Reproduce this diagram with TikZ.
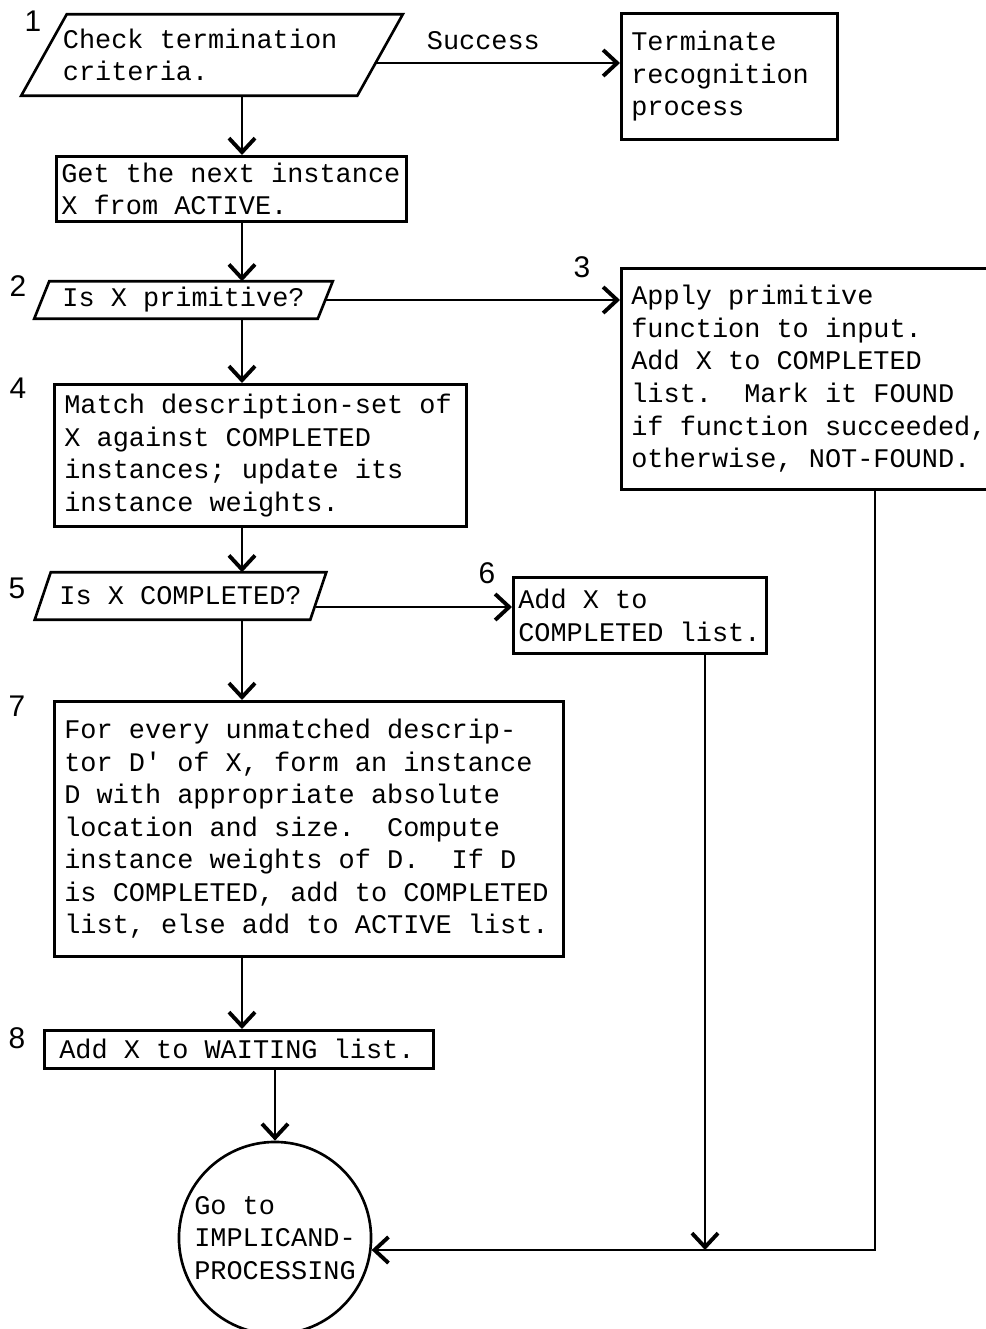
\documentclass[tikz,border=0pt]{standalone}
\usepackage{fontspec}
\newfontfamily\tw{Liberation Mono}
\newfontfamily\lbl{Liberation Sans}
\usetikzlibrary{arrows.meta,calc}

% slanted outline round a text node: #1 node name, #2 half of the slant offset
\newcommand\slantoutline[2]{%
  \draw[outline] ($(#1.north west)+(#2,0)$) -- ($(#1.north east)+(#2,0)$)
    -- ($(#1.south east)-(#2,0)$) -- ($(#1.south west)-(#2,0)$) -- cycle;}

\begin{document}
\begin{tikzpicture}[x=0.01cm,y=-0.01cm,
  txt/.style={font=\tw\fontsize{7.65}{9.25}\selectfont,
              execute at begin node={\frenchspacing\spaceskip=0pt\xspaceskip=0pt\relax}},
  outline/.style={line width=0.75pt},
  box/.style={txt,draw,outline,rectangle,anchor=north west,align=left,inner ysep=0pt},
  ptext/.style={txt,rectangle,inner sep=0pt,align=left},
  term/.style={draw,outline,circle,inner sep=0pt,minimum size=1.92cm,txt,align=left},
  num/.style={font=\lbl\fontsize{8.5}{8.5}\selectfont,inner sep=0pt},
  link/.style={line width=0.7pt},
  arr/.style={link,-{Straight Barb[length=0.14cm,width=0.26cm,line width=1.1pt]}}
]
\useasboundingbox (0,0) rectangle (986,1329);

% ---- decision / input steps (parallelograms)
\node[ptext,minimum width=3.345cm,minimum height=0.80cm,text width=2.98cm] (p1) at (212,55)
  {Check termination\\criteria.};
\slantoutline{p1}{22.75}
\node[ptext,minimum width=2.82cm,minimum height=0.36cm] (p2) at (183.5,300)
  {Is X primitive?};
\slantoutline{p2}{7.5}
\node[ptext,minimum width=2.74cm,minimum height=0.46cm] (p5) at (180.5,596)
  {Is X COMPLETED?};
\slantoutline{p5}{8}

% ---- process boxes
\node[box,minimum width=2.16cm,minimum height=1.26cm,text width=1.96cm,inner xsep=0.10cm]
  (stop) at (620,12) {Terminate\\recognition\\process};
\node[box,minimum width=3.50cm,minimum height=0.65cm,text width=3.40cm,inner xsep=0.05cm]
  (get) at (55,155) {Get the next instance\\X from ACTIVE.};
\node[box,minimum width=3.80cm,minimum height=2.21cm,text width=3.60cm,inner xsep=0.10cm]
  (prim) at (620,267) {Apply primitive\\function to input.\\Add X to COMPLETED\\list.\ \ Mark it FOUND\\if function succeeded,\\otherwise, NOT-FOUND.};
\node[box,minimum width=4.12cm,minimum height=1.42cm,text width=3.92cm,inner xsep=0.10cm]
  (match) at (53,383) {Match description-set of\\X against COMPLETED\\instances; update its\\instance weights.};
\node[box,minimum width=2.53cm,minimum height=0.76cm,text width=2.43cm,inner xsep=0.05cm]
  (addc) at (512,576) {Add X to\\COMPLETED list.};
\node[box,minimum width=5.09cm,minimum height=2.55cm,text width=4.89cm,inner xsep=0.10cm]
  (form) at (53,700) {For every unmatched descrip-\\tor D' of X, form an instance\\D with appropriate absolute\\location and size.\ \ Compute\\instance weights of D.\ \ If D\\is COMPLETED, add to COMPLETED\\list, else add to ACTIVE list.};
\node[box,minimum width=3.89cm,minimum height=0.38cm,text width=3.59cm,inner xsep=0.15cm]
  (wait) at (43,1029) {Add X to WAITING list.};

% ---- exit connector
\node[term] (goto) at (275,1238) {Go to\\IMPLICAND-\\PROCESSING};

% ---- step numbers
\node[num] (n1) at (33,21) {1};
\node[num] (n2) at (18,286) {2};
\node[num] (n3) at (582,267) {3};
\node[num] (n4) at (18,388) {4};
\node[num] (n5) at (17,588) {5};
\node[num] (n6) at (487,573) {6};
\node[num] (n7) at (17,706) {7};
\node[num] (n8) at (17,1038) {8};

% ---- main flow
\coordinate (trunk) at (242,0);
\draw[arr] (p1.south -| trunk) -- (get.north -| trunk);
\draw[arr] (get.south -| trunk) -- (p2.north -| trunk);
\draw[arr] (p2.south -| trunk) -- (match.north -| trunk);
\draw[arr] (match.south -| trunk) -- (p5.north -| trunk);
\draw[arr] (p5.south -| trunk) -- (form.north -| trunk);
\draw[arr] (form.south -| trunk) -- (wait.north -| trunk);
\draw[arr] (wait.south -| goto.north) -- (goto.north);

% ---- side branches
\coordinate (a1) at ($(p1.east)+(-4,8)$);
\draw[arr] (a1) -- (a1 -| stop.west)
  node[txt,pos=0.44,above=0pt] (succ) {Success};
\draw[arr] (p2.east) -- (p2.east -| prim.west);
\coordinate (a5) at ($(p5.east)+(-2,11)$);
\draw[arr] (a5) -- (a5 -| addc.west);

% ---- returns to the exit
\coordinate (j6) at (705,1250);
\coordinate (j3) at (875,1250);
\draw[arr] (addc.south -| j6) -- (j6);
\draw[arr] (prim.south -| j3) -- (j3) -- (j3 -| goto.-7);
\end{tikzpicture}
\end{document}
